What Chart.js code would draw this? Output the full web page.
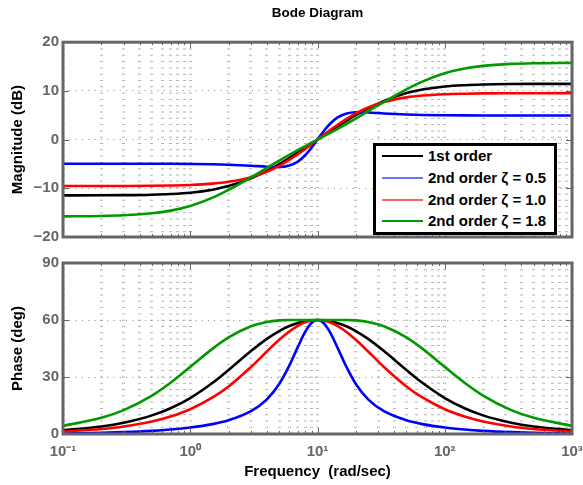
<!DOCTYPE html>
<html>
<head>
<meta charset="utf-8">
<title>Bode Diagram</title>
<script src="https://cdn.jsdelivr.net/npm/chart.js@4.4.1/dist/chart.umd.min.js"></script>
<style>
  html, body { margin: 0; padding: 0; background: #fff; }
  #wrap { position: relative; width: 583px; height: 485px; font-family: "Liberation Sans", Arial, Helvetica, sans-serif; }
  #magBox { position: absolute; left: 0; top: 0; width: 583px; height: 250px; }
  #phaseBox { position: absolute; left: 0; top: 250px; width: 583px; height: 235px; }
  #legend { position: absolute; left: 373px; top: 143px; width: 184px; height: 92px; box-sizing: border-box;
            border: 3px solid #000; background: #fff; }
  .row { position: absolute; left: 0; height: 20px; width: 178px; }
  .row .ln { position: absolute; left: 6px; top: 9px; width: 41px; height: 1.5px; }
  .row .tx { position: absolute; left: 52px; top: 1px; font-weight: bold; font-size: 15px; line-height: 18px; color: #000; white-space: nowrap; }
</style>
</head>
<body>
<div id="wrap">
  <div id="magBox"><canvas id="chartMag"></canvas></div>
  <div id="phaseBox"><canvas id="chartPhase"></canvas></div>
  <div id="legend"></div>
</div>
<script>
// frequencies (rad/sec) read along the log axis
const freq = [0.1, 0.2, 0.3, 0.5, 0.7, 1, 1.5, 2, 3, 4, 5, 6, 7, 8, 9, 10,
              11.1, 12.5, 14.3, 16.7, 20, 25, 33.3, 50, 66.7, 100, 143, 200, 333, 500, 1000];

// magnitude (dB)
const magFirst  = [-11.45, -11.44, -11.41, -11.31, -11.17, -10.90, -10.28, -9.55, -7.96, -6.42, -5.02, -3.78, -2.67, -1.69, -0.81, 0,
                   0.81, 1.69, 2.67, 3.78, 5.02, 6.42, 7.96, 9.55, 10.28, 10.90, 11.17, 11.31, 11.41, 11.44, 11.45];
const magZeta05 = [-4.95, -4.95, -4.95, -4.96, -4.97, -5.00, -5.06, -5.15, -5.36, -5.56, -5.62, -5.32, -4.51, -3.21, -1.62, 0,
                   1.62, 3.21, 4.51, 5.32, 5.62, 5.56, 5.36, 5.15, 5.06, 5.00, 4.97, 4.96, 4.95, 4.95, 4.95];
const magZeta10 = [-9.54, -9.53, -9.52, -9.49, -9.43, -9.32, -9.04, -8.67, -7.72, -6.59, -5.38, -4.17, -3.00, -1.92, -0.91, 0,
                   0.91, 1.92, 3.00, 4.17, 5.38, 6.59, 7.72, 8.67, 9.04, 9.32, 9.43, 9.49, 9.52, 9.53, 9.54];
const magZeta18 = [-15.76, -15.68, -15.54, -15.13, -14.58, -13.62, -11.91, -10.33, -7.75, -5.82, -4.33, -3.15, -2.17, -1.35, -0.64, 0,
                   0.64, 1.35, 2.17, 3.15, 4.33, 5.82, 7.75, 10.33, 11.91, 13.62, 14.58, 15.13, 15.54, 15.68, 15.76];

// phase (deg)
const phaseFirst  = [1.98, 3.96, 5.93, 9.80, 13.57, 18.93, 26.94, 33.68, 43.64, 50.07, 54.19, 56.81, 58.44, 59.38, 59.86, 60,
                     59.86, 59.38, 58.44, 56.81, 54.19, 50.07, 43.64, 33.68, 26.94, 18.93, 13.57, 9.80, 5.93, 3.96, 1.98];
const phaseZeta05 = [0.33, 0.66, 0.99, 1.66, 2.34, 3.38, 5.21, 7.22, 12.00, 18.26, 26.34, 35.96, 45.75, 53.71, 58.52, 60,
                     58.52, 53.71, 45.75, 35.96, 26.34, 18.26, 12.00, 7.22, 5.21, 3.38, 2.34, 1.66, 0.99, 0.66, 0.33];
const phaseZeta10 = [1.32, 2.65, 3.96, 6.59, 9.20, 13.04, 19.23, 25.04, 35.27, 43.44, 49.58, 53.98, 56.94, 58.78, 59.72, 60,
                     59.72, 58.78, 56.94, 53.98, 49.58, 43.44, 35.27, 25.04, 19.23, 13.04, 9.20, 6.59, 3.96, 2.65, 1.32];
const phaseZeta18 = [4.28, 8.49, 12.59, 20.25, 27.01, 35.33, 44.95, 50.85, 56.72, 58.98, 59.78, 60, 60, 60, 60, 60,
                     60, 60, 60, 60, 59.78, 58.98, 56.72, 50.85, 44.95, 35.33, 27.01, 20.25, 12.59, 8.49, 4.28];

const seriesNames  = ['1st order', '2nd order \u03b6 = 0.5', '2nd order \u03b6 = 1.0', '2nd order \u03b6 = 1.8'];
const seriesColors = ['#000000', '#0000ff', '#ff0000', '#009900'];
const legendColors = ['#000000', '#7070ff', '#ff6060', '#009900'];

const xDecades = [0.1, 1, 10, 100, 1000];
const xDecadeLabels = ['10\u207b\u00b9', '10\u2070', '10\u00b9', '10\u00b2', '10\u00b3'];
const magTicks = [-20, -10, 0, 10, 20];
const phaseTicks = [0, 30, 60, 90];

Chart.defaults.font.family = '"Liberation Sans", Arial, Helvetica, sans-serif';
const axisGray = '#666666';

// grid positions 1..9 per decade
function logGridValues() {
  const vals = [];
  for (let e = -1; e < 3; e++) {
    for (let m = 1; m < 10; m++) vals.push(m * Math.pow(10, e));
  }
  vals.push(1000);
  return vals;
}

function fmtNum(v) {
  return v < 0 ? '\u2212' + Math.abs(v) : String(v);
}

// box around the axes plus the small inward tick marks
const framePlugin = {
  id: 'frame',
  afterDraw(chart) {
    const { ctx, chartArea: a, scales } = chart;
    ctx.save();
    ctx.strokeStyle = axisGray;
    ctx.lineWidth = 1;
    ctx.beginPath();
    scales.x.ticks.forEach(t => {
      const px = Math.round(scales.x.getPixelForValue(t.value)) + 0.5;
      const len = xDecades.includes(t.value) ? 6 : 3;
      ctx.moveTo(px, a.bottom); ctx.lineTo(px, a.bottom - len);
      ctx.moveTo(px, a.top); ctx.lineTo(px, a.top + len);
    });
    scales.y.ticks.forEach(t => {
      const py = Math.round(scales.y.getPixelForValue(t.value)) + 0.5;
      ctx.moveTo(a.left, py); ctx.lineTo(a.left + 6, py);
      ctx.moveTo(a.right, py); ctx.lineTo(a.right - 6, py);
    });
    ctx.stroke();
    ctx.lineWidth = 3;
    ctx.strokeRect(a.left, a.top, a.right - a.left, a.bottom - a.top);
    ctx.restore();
  }
};

function makeDatasets(lists) {
  return lists.map((vals, i) => ({
    label: seriesNames[i],
    data: freq.map((f, k) => ({ x: f, y: vals[k] })),
    borderColor: seriesColors[i],
    borderWidth: 2.6,
    pointRadius: 0,
    fill: false,
    cubicInterpolationMode: 'monotone',
    order: 3 - i
  }));
}

function makeChart(canvasId, opts) {
  const showX = opts.showXLabels;
  return new Chart(document.getElementById(canvasId).getContext('2d'), {
    type: 'line',
    data: { datasets: makeDatasets(opts.lists) },
    options: {
      responsive: true,
      maintainAspectRatio: false,
      animation: false,
      events: [],
      layout: { padding: { left: 0, right: 11, top: opts.padTop, bottom: 0 } },
      plugins: {
        legend: { display: false },
        tooltip: { enabled: false },
        title: {
          display: !!opts.title,
          text: opts.title || '',
          fullSize: false,
          color: '#000',
          font: { size: 13.5, weight: 'bold' },
          padding: { top: 5, bottom: 21 }
        }
      },
      scales: {
        x: {
          type: 'logarithmic',
          min: 0.1,
          max: 1000,
          afterBuildTicks: s => { s.ticks = logGridValues().map(v => ({ value: v, major: xDecades.includes(v) })); },
          afterFit: s => {
            s.height = opts.xHeight;
            // let the last label hang past the axes like the original
            s.paddingLeft = 0;
            s.paddingRight = 0;
          },
          ticks: {
            display: showX,
            autoSkip: false,
            maxRotation: 0,
            padding: 9,
            color: axisGray,
            font: { size: 15, weight: 'bold' },
            callback: v => {
              const i = xDecades.indexOf(v);
              return i >= 0 ? xDecadeLabels[i] : '';
            }
          },
          grid: { color: '#b4b4b4', lineWidth: 3, drawTicks: false },
          border: { display: false, dash: [1, 5.3] },
          title: {
            display: showX,
            text: 'Frequency  (rad/sec)',
            color: '#000',
            font: { size: 15, weight: 'bold' },
            padding: { top: 0, bottom: 4 }
          }
        },
        y: {
          type: 'linear',
          min: opts.yTicks[0],
          max: opts.yTicks[opts.yTicks.length - 1],
          afterBuildTicks: s => { s.ticks = opts.yTicks.map(v => ({ value: v })); },
          afterFit: s => { s.width = 63; },
          ticks: {
            padding: 4,
            color: axisGray,
            font: { size: 15, weight: 'bold' },
            callback: v => fmtNum(v)
          },
          grid: { color: '#8a8a8a', lineWidth: 1, drawTicks: false },
          border: { display: false, dash: [1, 5.3] },
          title: {
            display: true,
            text: opts.yTitle,
            color: '#000',
            font: { size: 15, weight: 'bold' },
            padding: { top: 9, bottom: 0 }
          }
        }
      }
    },
    plugins: [framePlugin]
  });
}

makeChart('chartMag', {
  lists: [magFirst, magZeta05, magZeta10, magZeta18],
  yTicks: magTicks,
  yTitle: 'Magnitude (dB)',
  title: 'Bode Diagram',
  padTop: 0,
  xHeight: 7,
  showXLabels: false
});

makeChart('chartPhase', {
  lists: [phaseFirst, phaseZeta05, phaseZeta10, phaseZeta18],
  yTicks: phaseTicks,
  yTitle: 'Phase (deg)',
  padTop: 7,
  xHeight: 51,
  showXLabels: true
});

// legend box inside the magnitude axes
const legend = document.getElementById('legend');
const rowTops = [0, 22, 44, 65];
seriesNames.forEach((name, i) => {
  const row = document.createElement('div');
  row.className = 'row';
  row.style.top = rowTops[i] + 'px';
  row.innerHTML = '<div class="ln" style="background:' + legendColors[i] + '"></div><div class="tx">' + name + '</div>';
  legend.appendChild(row);
});
</script>
</body>
</html>
